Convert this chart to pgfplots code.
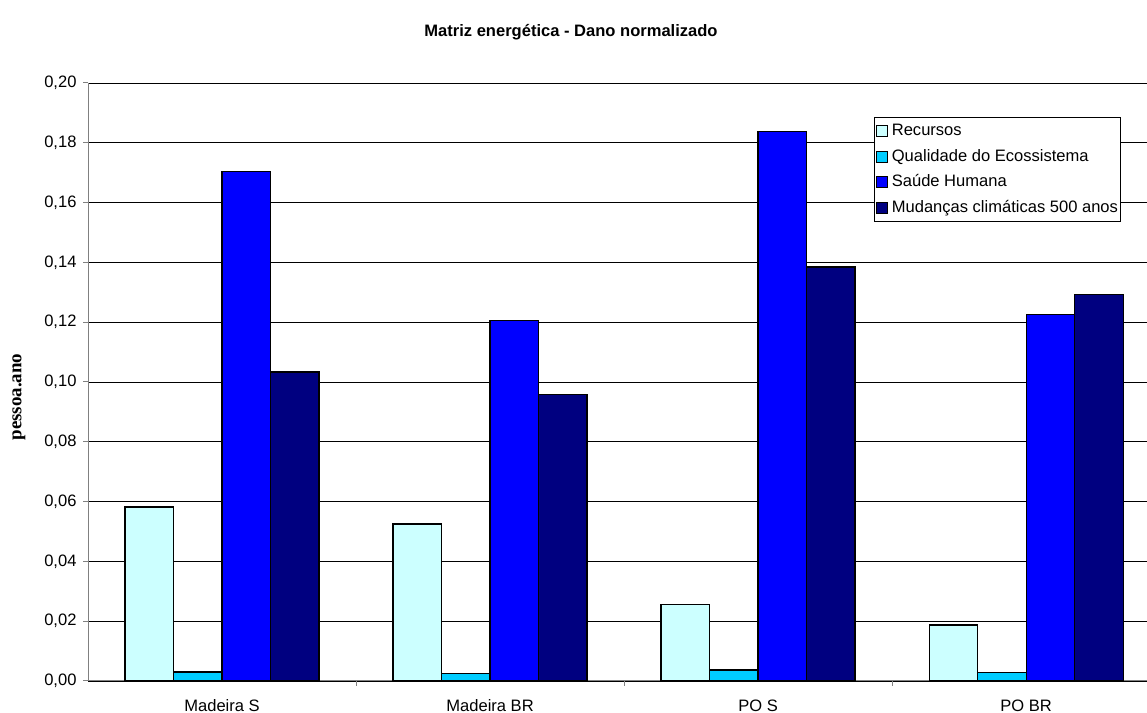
\documentclass[border=0pt]{standalone}
\usepackage{pgfplots}
\pgfplotsset{compat=1.18}
\usepackage{fontspec}
\setmainfont{Liberation Sans}
\newfontfamily\serifb{Liberation Serif}
\definecolor{cRec}{HTML}{CCFFFF}
\definecolor{cQua}{HTML}{00CCFF}
\definecolor{cSau}{HTML}{0000FF}
\definecolor{cMud}{HTML}{000080}
\definecolor{axgray}{HTML}{808080}
\begin{document}
\begin{tikzpicture}[x=1bp,y=1bp]
\path[use as bounding box] (0,0) rectangle (1147,713);
\node[font=\fontsize{16.6}{19}\selectfont\bfseries] at (571,681) {Matriz energética - Dano normalizado};
\node[rotate=90, font=\serifb\fontsize{19}{22}\selectfont\bfseries] at (19,316) {pessoa.ano};
\begin{axis}[
  at={(88bp,32bp)}, anchor=south west, scale only axis,
  width=1059bp, height=598bp,
  xmin=-0.5, xmax=3.451, ymin=0, ymax=0.2,
  ybar=0pt, bar width=48.5bp,
  axis x line*=bottom, axis y line*=left,
  axis line style={axgray, line width=1bp, -},
  ytick={0,0.02,...,0.2},
  ymajorgrids, grid style={black, line width=0.8bp},
  tick align=outside, major tick length=5bp,
  tick style={axgray, line width=1bp},
  xtick={0.5,1.5,2.5}, xticklabels={},
  extra x ticks={0,1,2,3},
  extra x tick labels={Madeira S, Madeira BR, PO S, PO BR},
  extra x tick style={major tick length=0pt, grid=none, xticklabel style={yshift=-15bp}},
  /pgf/number format/.cd, fixed, fixed zerofill, precision=2, use comma, assume math mode=true,
  /pgfplots/.cd,
  ticklabel style={font=\fontsize{16.6}{19}\selectfont},
  yticklabel style={xshift=-3bp},
  scaled y ticks=false,
  legend style={at={(0.9754,0.943)}, anchor=north east, draw=black, line width=1bp,
    font=\fontsize{16.6}{19}\selectfont, inner xsep=1.5bp, inner ysep=4.5bp, row sep=7.7bp,
    column sep=3bp,
    nodes={inner sep=1bp, text height=12.5bp, text depth=3.5bp},
    cells={anchor=west}},
  legend image code/.code={\draw[#1,draw=black,line width=1bp] (0bp,-5.5bp) rectangle (11bp,5.5bp);},
  every axis plot/.append style={draw=black, line width=1.3bp},
]
\addplot[fill=cRec] coordinates {(0,0.0582) (1,0.0525) (2,0.0256) (3,0.0187)};
\addplot[fill=cQua] coordinates {(0,0.0030) (1,0.0025) (2,0.0037) (3,0.0028)};
\addplot[fill=cSau] coordinates {(0,0.1705) (1,0.1205) (2,0.1838) (3,0.1225)};
\addplot[fill=cMud] coordinates {(0,0.1033) (1,0.0958) (2,0.1385) (3,0.1292)};
\legend{Recursos, Qualidade do Ecossistema, Saúde Humana, Mudanças climáticas 500 anos}
\end{axis}
\end{tikzpicture}
\end{document}
